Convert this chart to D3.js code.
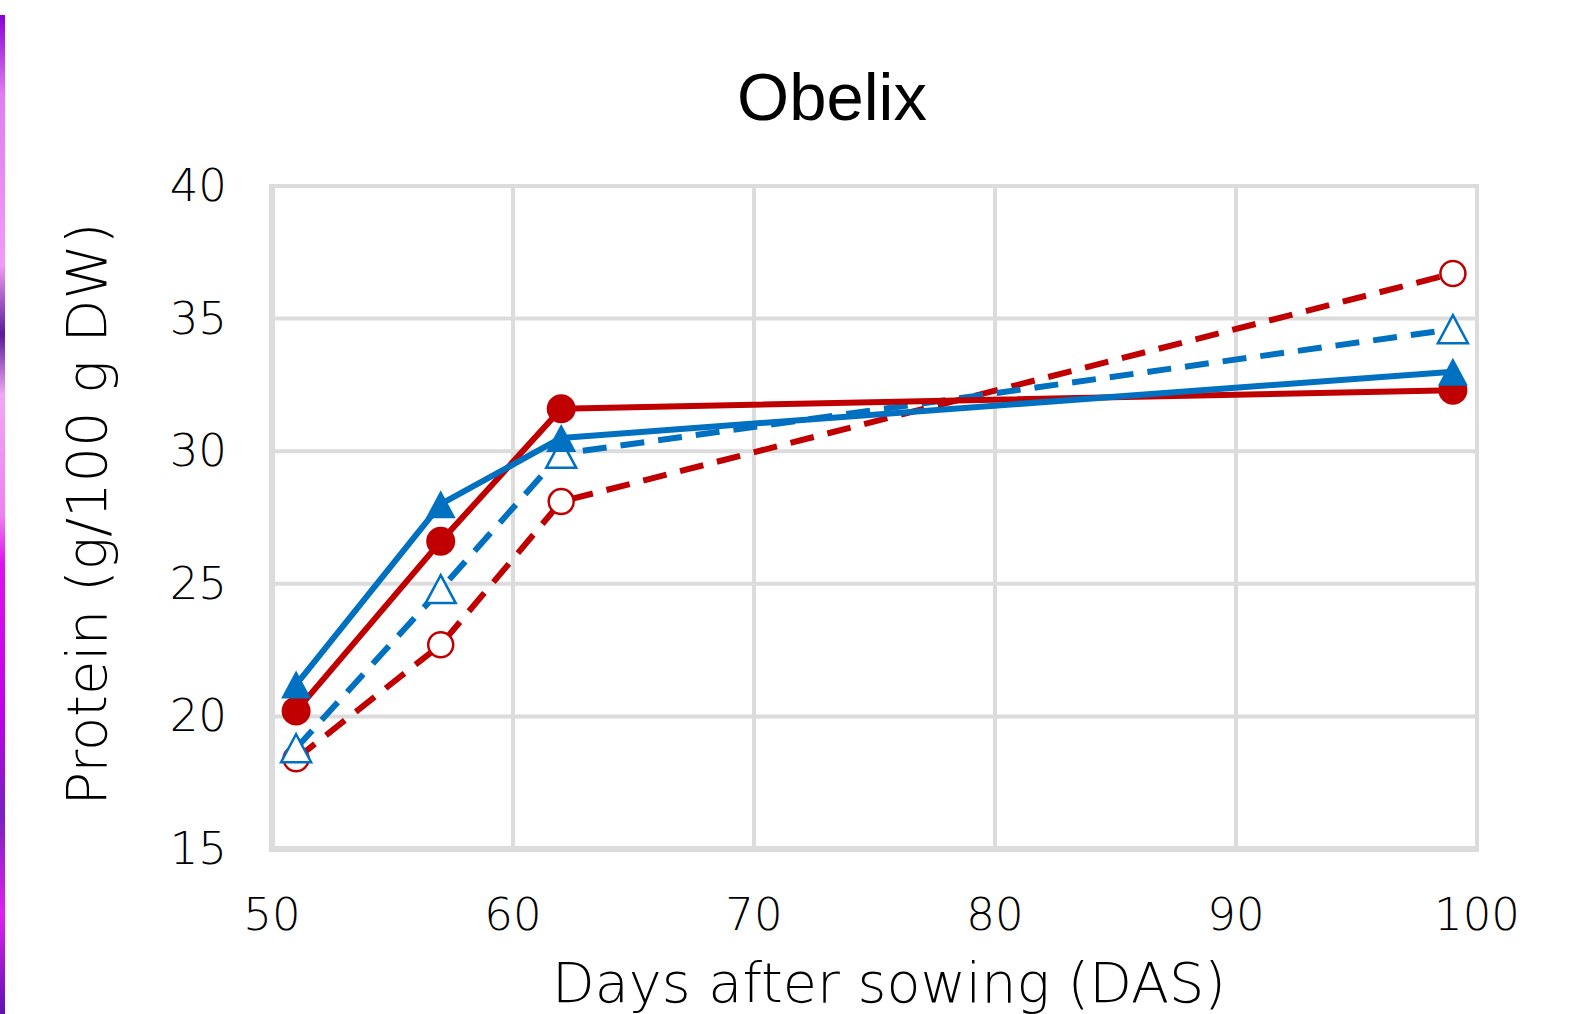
<!DOCTYPE html>
<html lang="en">
<head>
    <meta charset="UTF-8">
    <title>Obelix</title>
    <script src="https://d3js.org/d3.v7.min.js"></script>
    <style>
        html, body { margin: 0; padding: 0; background: #fff; }
        svg { display: block; }
        .tick-label { font-family: "DejaVu Sans", Verdana, sans-serif; font-size: 45px; font-weight: 200; fill: #000; }
        .axis-title { font-family: "DejaVu Sans", Verdana, sans-serif; font-size: 56px; font-weight: 200; fill: #000; }
        .chart-title { font-family: "Liberation Sans", Arial, sans-serif; font-size: 67px; fill: #000; }
    </style>
</head>
<body>
    <svg id="chart"></svg>

    <script>
        // Data
        const days = [51, 57, 62, 99];
        const redSolid = [20.2, 26.6, 31.6, 32.3];     // filled circles
        const blueSolid = [21.2, 28.0, 30.5, 33.0];    // filled triangles
        const redDashed = [18.4, 22.7, 28.1, 36.7];    // open circles
        const blueDashed = [18.8, 24.8, 29.9, 34.6];   // open triangles
        const xTicks = [50, 60, 70, 80, 90, 100];
        const yTicks = [15, 20, 25, 30, 35, 40];

        const width = 1589, height = 1014;
        const plot = { left: 272, right: 1477, top: 186, bottom: 849 };

        const svg = d3.select("#chart")
            .attr("width", width)
            .attr("height", height);

        // purple strip on the left edge (background of the source image)
        const defs = svg.append("defs");
        const grad = defs.append("linearGradient")
            .attr("id", "strip")
            .attr("x1", 0).attr("y1", 0).attr("x2", 0).attr("y2", 1);
        [["0", "#8a00d8"], ["0.08", "#e27cf2"], ["0.25", "#f39af7"], ["0.32", "#5a1a9a"],
         ["0.38", "#f2a6f6"], ["0.5", "#f080f0"], ["0.55", "#e010f0"], ["0.7", "#c000e8"],
         ["0.8", "#7a20c0"], ["0.9", "#e020f0"], ["1", "#6010b0"]].forEach(s => {
            grad.append("stop").attr("offset", s[0]).attr("stop-color", s[1]);
        });
        svg.append("rect")
            .attr("x", 0).attr("y", 15)
            .attr("width", 5).attr("height", height - 15)
            .attr("fill", "url(#strip)");

        const x = d3.scaleLinear().domain([50, 100]).range([plot.left, plot.right]);
        const y = d3.scaleLinear().domain([15, 40]).range([plot.bottom, plot.top]);

        // grid lines
        svg.append("g").selectAll("line")
            .data(yTicks)
            .enter().append("line")
            .attr("x1", plot.left).attr("x2", plot.right)
            .attr("y1", d => y(d)).attr("y2", d => y(d))
            .attr("stroke", "#dcdcdc")
            .attr("stroke-width", d => d === 15 ? 6 : 4);

        svg.append("g").selectAll("line")
            .data(xTicks)
            .enter().append("line")
            .attr("y1", plot.top - 2).attr("y2", plot.bottom + 3)
            .attr("x1", d => x(d)).attr("x2", d => x(d))
            .attr("stroke", "#dcdcdc")
            .attr("stroke-width", d => d === 50 ? 6 : 4);

        // tick labels
        svg.append("g").selectAll("text")
            .data(yTicks)
            .enter().append("text")
            .attr("class", "tick-label")
            .attr("x", 227)
            .attr("y", d => y(d) + 15)
            .attr("text-anchor", "end")
            .text(d => d);

        svg.append("g").selectAll("text")
            .data(xTicks)
            .enter().append("text")
            .attr("class", "tick-label")
            .attr("x", d => x(d))
            .attr("y", 930)
            .attr("text-anchor", "middle")
            .text(d => d);

        // titles
        svg.append("text")
            .attr("class", "chart-title")
            .attr("x", 832).attr("y", 120)
            .attr("text-anchor", "middle")
            .text("Obelix");

        svg.append("text")
            .attr("class", "axis-title")
            .attr("x", 889).attr("y", 1002)
            .attr("text-anchor", "middle")
            .attr("textLength", 674)
            .attr("lengthAdjust", "spacingAndGlyphs")
            .text("Days after sowing (DAS)");

        svg.append("text")
            .attr("class", "axis-title")
            .attr("transform", "translate(106,514) rotate(-90)")
            .attr("text-anchor", "middle")
            .attr("textLength", 583)
            .attr("lengthAdjust", "spacingAndGlyphs")
            .text("Protein (g/100 g DW)");

        // series
        const line = d3.line()
            .x(d => x(d[0]))
            .y(d => y(d[1]));

        const triangle = (cx, cy) => {
            const w = 30, h = 28;
            return "M" + cx + "," + (cy - h / 2) +
                "L" + (cx + w / 2) + "," + (cy + h / 2) +
                "L" + (cx - w / 2) + "," + (cy + h / 2) + "Z";
        };

        const series = [
            { values: redDashed, color: "#c00000", dash: "24,14", marker: "circle", filled: false },
            { values: blueDashed, color: "#0070c0", dash: "24,14", marker: "triangle", filled: false },
            { values: redSolid, color: "#c00000", dash: null, marker: "circle", filled: true },
            { values: blueSolid, color: "#0070c0", dash: null, marker: "triangle", filled: true }
        ];

        series.forEach(s => {
            const pts = days.map((d, i) => [d, s.values[i]]);
            svg.append("path")
                .datum(pts)
                .attr("d", line)
                .attr("fill", "none")
                .attr("stroke", s.color)
                .attr("stroke-width", 6)
                .attr("stroke-linejoin", "round")
                .attr("stroke-dasharray", s.dash);

            const g = svg.append("g");
            if (s.marker === "circle") {
                g.selectAll("circle")
                    .data(pts)
                    .enter().append("circle")
                    .attr("cx", d => x(d[0]))
                    .attr("cy", d => y(d[1]))
                    .attr("r", s.filled ? 14.5 : 12.5)
                    .attr("fill", s.filled ? s.color : "#fff")
                    .attr("stroke", s.color)
                    .attr("stroke-width", s.filled ? 0 : 2.5);
            } else {
                g.selectAll("path")
                    .data(pts)
                    .enter().append("path")
                    .attr("d", d => triangle(x(d[0]), y(d[1])))
                    .attr("fill", s.filled ? s.color : "#fff")
                    .attr("stroke", s.color)
                    .attr("stroke-width", s.filled ? 0 : 2.5)
                    .attr("stroke-linejoin", "miter");
            }
        });
    </script>
</body>
</html>
